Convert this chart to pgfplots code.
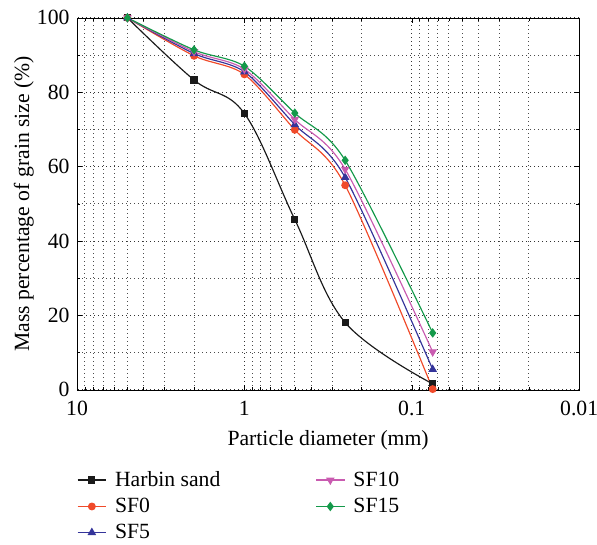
\documentclass[border={5pt 0pt -4pt 3pt}]{standalone}
\usepackage{pgfplots}
\pgfplotsset{compat=1.18}
\usepackage{fontspec}
\setmainfont{Liberation Serif}
\definecolor{cHarbin}{HTML}{1A1A1A}
\definecolor{cSF0}{HTML}{F04A2A}
\definecolor{cSF5}{HTML}{34349A}
\definecolor{cSF10}{HTML}{C95BB0}
\definecolor{cSF15}{HTML}{14994A}
\begin{document}
\begin{tikzpicture}
\begin{axis}[
  scale only axis,
  width=301pt, height=223pt,
  xmode=log, x dir=reverse,
  xmin=0.01, xmax=10,
  ymin=0, ymax=100,
  log ticks with fixed point,
  xtick={0.01,0.1,1,10},
  ytick={0,20,40,60,80,100},
  minor y tick num=1,
  grid=both,
  major grid style={black!80, dotted, line width=0.6pt},
  minor grid style={black!70, dotted, line width=0.5pt},
  tick style={black},
  major tick length=3pt, minor tick length=2pt,
  /pgf/number format/assume math mode=true,
  ticklabel style={font=\fontsize{13}{15}\selectfont},
  xticklabel style={yshift=-3pt},
  yticklabel style={xshift=-1pt},
  label style={font=\fontsize{13}{15}\selectfont},
  xlabel={Particle diameter (mm)},
  ylabel={Mass percentage of grain size (\%)},
  xlabel style={yshift=-2pt},
  ylabel style={yshift=-5pt},
  every axis plot/.append style={line width=0.7pt, smooth, tension=0.5},
  legend columns=3,
  transpose legend,
  legend cell align=left,
  legend style={draw=none, fill=none, at={(rel axis cs:0,-0.21)}, anchor=north west,
    inner sep=0pt, outer sep=0pt,
    font=\fontsize{13}{15}\selectfont,
    /tikz/every even column/.append style={column sep=55pt},
    /tikz/every odd column/.append style={column sep=3pt},
    row sep=1.5pt},
  legend image post style={line width=0.7pt},
]
\addplot[color=cHarbin, mark=square*, mark size=1.8pt, tension=0.6] coordinates {
(5,100) (2,83.3) (1,74.3) (0.5,45.8) (0.25,18.1) (0.075,1.6)};
\addlegendentry{Harbin sand}
\addplot[color=cSF0, mark=*, mark size=2pt] coordinates {
(5,100) (2,89.8) (1,84.8) (0.5,69.9) (0.25,55.0) (0.075,0.2)};
\addlegendentry{SF0}
\addplot[color=cSF5, mark=triangle*, mark size=2.3pt] coordinates {
(5,100) (2,90.4) (1,85.5) (0.5,71.3) (0.25,57.1) (0.075,5.5)};
\addlegendentry{SF5}
\addplot[color=cSF10, mark=triangle*, mark size=2.3pt, mark options={rotate=180}] coordinates {
(5,100) (2,90.9) (1,86.2) (0.5,72.7) (0.25,59.3) (0.075,10.2)};
\addlegendentry{SF10}
\addplot[color=cSF15, mark=diamond*, mark size=2.3pt] coordinates {
(5,100) (2,91.4) (1,87.0) (0.5,74.4) (0.25,61.7) (0.075,15.3)};
\addlegendentry{SF15}
\end{axis}
\end{tikzpicture}
\end{document}
